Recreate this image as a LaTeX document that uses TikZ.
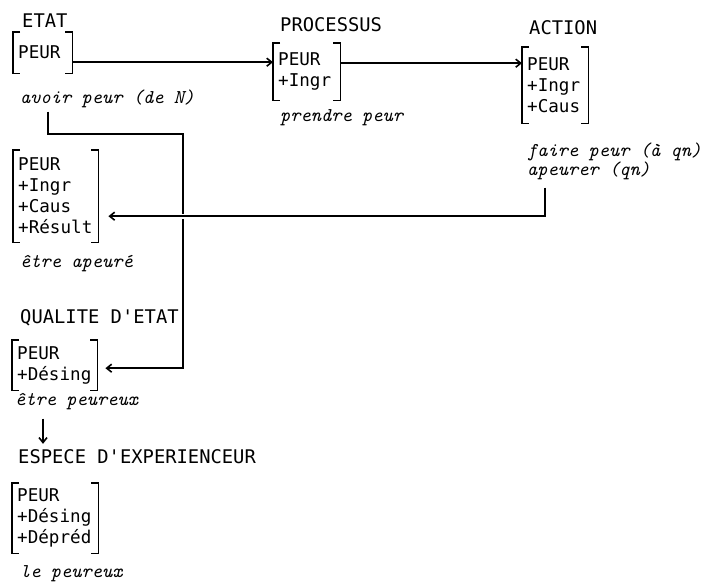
\documentclass[tikz,border=0pt]{standalone}
\usepackage{fontspec}
\newfontfamily\twfont{DejaVu Sans Mono}
\usetikzlibrary{arrows.meta}
\newcommand\drawbrackets[1]{%
 \draw[brk] ([xshift=7pt]#1.north west) -- (#1.north west) -- (#1.south west) -- ([xshift=7pt]#1.south west);
 \draw[brk] ([xshift=-7pt]#1.north east) -- (#1.north east) -- (#1.south east) -- ([xshift=-7pt]#1.south east);}
\begin{document}
\begin{tikzpicture}[x=1pt,y=-1pt,
  lbl/.style={anchor=base west, inner sep=0pt, font=\fontsize{18.8}{22}\selectfont\twfont},
  gl/.style={anchor=base west, inner sep=0pt, font=\fontsize{19.5}{22}\selectfont\ttfamily\itshape},
  fb/.style={anchor=north west, inner xsep=5pt, inner ysep=0pt, align=left, font=\fontsize{17.6}{21}\selectfont\twfont},
  brk/.style={line width=1.6pt},
  ln/.style={line width=1.6pt},
  arr/.style={line width=1.6pt, -{Straight Barb[length=5pt,width=8pt]}}]
\useasboundingbox[fill=white] (0,0) rectangle (709,586);

% labels
\node[lbl] (lE) at (22,28) {ETAT};
\node[lbl] (lP) at (280,32) {PROCESSUS};
\node[lbl] (lA) at (529,35) {ACTION};
\node[lbl] (lQ) at (20,323) {QUALITE D'ETAT};
\node[lbl] (lS) at (18,463) {ESPECE D'EXPERIENCEUR};

% boxes
\node[fb, text width=49pt, minimum height=41pt] (e) at (13,32) {PEUR};
\node[fb, text width=57pt, minimum height=57pt] (p) at (273,43) {PEUR\\+Ingr};
\node[fb, text width=56pt, minimum height=76pt] (a) at (522,47) {PEUR\\+Ingr\\+Caus};
\node[fb, text width=75pt, minimum height=92pt] (r) at (13,150) {PEUR\\+Ingr\\+Caus\\+Résult};
\node[fb, text width=75pt, minimum height=50pt] (q) at (12,340) {PEUR\\+Désing};
\node[fb, text width=76pt, minimum height=70pt] (s) at (12,483) {PEUR\\+Désing\\+Dépréd};
\drawbrackets{e}
\drawbrackets{p}
\drawbrackets{a}
\drawbrackets{r}
\drawbrackets{q}
\drawbrackets{s}

% glosses
\node[gl] (ap) at (20,103) {avoir peur (de N)};
\node[gl] (pp) at (280,121) {prendre peur};
\node[gl] (fp) at (527,156) {faire peur (à qn)};
\node[gl] (apq) at (527,175) {apeurer (qn)};
\node[gl] (ea) at (20,267) {être apeuré};
\node[gl] (ep) at (15,405) {être peureux};
\node[gl] (lp) at (20,577) {le peureux};

% connectors
\draw[arr] ([yshift=-9.5pt]e.east) -- ([yshift=-9.5pt]e.east -| p.west);
\draw[arr] ([yshift=8.5pt]p.east) -- ([yshift=8.5pt]p.east -| a.west);

\coordinate (j1) at (183,134);
\draw[arr] ([xshift=28pt,yshift=-4pt]ap.south west) |- (j1) |- ([xshift=8pt,yshift=-3pt]q.east);

\draw[arr, preaction={draw=white, line width=5pt, -}] ([xshift=18pt,yshift=-8pt]apq.south west) |- ([xshift=10pt,yshift=-20pt]r.east);

\coordinate (d1) at ([xshift=28pt,yshift=-9pt]ep.south west);
\coordinate (d2) at ([yshift=5pt]lS.north west);
\draw[arr] (d1) -- (d1 |- d2);
\end{tikzpicture}
\end{document}
